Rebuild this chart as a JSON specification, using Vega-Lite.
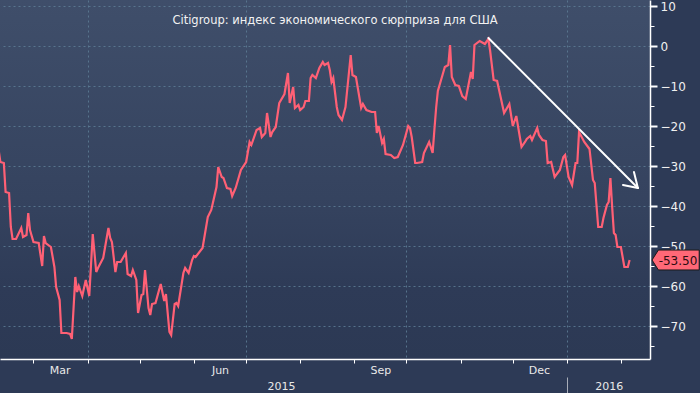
{
  "$schema": "https://vega.github.io/schema/vega-lite/v6.json",
  "width": 650,
  "height": 359,
  "autosize": {"type": "none"},
  "padding": {"left": 0, "top": 0, "right": 50, "bottom": 34},
  "background": "#2d3a56",
  "view": {"stroke": null, "fill": {"gradient": "linear", "x1": 0, "y1": 0, "x2": 0, "y2": 1, "stops": [{"offset": 0, "color": "#3f4e6a"}, {"offset": 0.55, "color": "#35435f"}, {"offset": 0.8, "color": "#2e3b57"}, {"offset": 1, "color": "#2c3954"}]}},
  "title": {"text": "Citigroup: индекс экономического сюрприза для США", "offset": -26, "dx": 10, "anchor": "middle", "font": "DejaVu Sans", "fontSize": 11.5, "fontWeight": "normal", "color": "#f2f2f2"},
  "config": {"font": "DejaVu Sans", "axis": {"labelFont": "DejaVu Sans", "labelFontSize": 11, "labelColor": "#e8e8e8", "title": null}},
  "datasets": {
    "s": [
      {"d":"2015-02-09","v":-26},{"d":"2015-02-10","v":-29},{"d":"2015-02-12","v":-29.25},{"d":"2015-02-13","v":-36.5},{"d":"2015-02-15","v":-36.75},{"d":"2015-02-16","v":-45.25},{"d":"2015-02-17","v":-48.25},{"d":"2015-02-19","v":-48.25},{"d":"2015-02-22","v":-45.5},{"d":"2015-02-23","v":-47.75},{"d":"2015-02-25","v":-47.25},{"d":"2015-02-26","v":-41.75},{"d":"2015-02-27","v":-46},
      {"d":"2015-03-01","v":-49},{"d":"2015-03-04","v":-49.25},{"d":"2015-03-06","v":-55},{"d":"2015-03-07","v":-47.5},{"d":"2015-03-08","v":-49.25},{"d":"2015-03-11","v":-50.25},{"d":"2015-03-13","v":-55.25},{"d":"2015-03-14","v":-60.25},{"d":"2015-03-16","v":-63.5},{"d":"2015-03-17","v":-71.75},{"d":"2015-03-20","v":-71.75},{"d":"2015-03-22","v":-72},{"d":"2015-03-23","v":-73.25},{"d":"2015-03-25","v":-57.75},{"d":"2015-03-26","v":-61.5},{"d":"2015-03-27","v":-60},{"d":"2015-03-29","v":-62.5},{"d":"2015-03-31","v":-58.5},
      {"d":"2015-04-02","v":-62.5},{"d":"2015-04-04","v":-47},{"d":"2015-04-06","v":-56.5},{"d":"2015-04-07","v":-55.5},{"d":"2015-04-10","v":-53},{"d":"2015-04-13","v":-45.5},{"d":"2015-04-14","v":-48},{"d":"2015-04-15","v":-49},{"d":"2015-04-17","v":-56.5},{"d":"2015-04-18","v":-54},{"d":"2015-04-20","v":-54},{"d":"2015-04-23","v":-51.75},{"d":"2015-04-24","v":-57},{"d":"2015-04-26","v":-57.5},{"d":"2015-04-27","v":-56},{"d":"2015-04-29","v":-58.5},{"d":"2015-04-30","v":-66.75},
      {"d":"2015-05-02","v":-62.25},{"d":"2015-05-03","v":-62},{"d":"2015-05-04","v":-56},{"d":"2015-05-06","v":-65.5},{"d":"2015-05-07","v":-67.25},{"d":"2015-05-08","v":-64.5},{"d":"2015-05-10","v":-64.25},{"d":"2015-05-13","v":-59.5},{"d":"2015-05-15","v":-63.75},{"d":"2015-05-16","v":-62},{"d":"2015-05-18","v":-71.5},{"d":"2015-05-19","v":-72.25},{"d":"2015-05-21","v":-64.5},{"d":"2015-05-22","v":-64.25},{"d":"2015-05-23","v":-65},{"d":"2015-05-26","v":-56.75},{"d":"2015-05-27","v":-55.5},{"d":"2015-05-29","v":-56.75},{"d":"2015-05-31","v":-53.5},
      {"d":"2015-06-01","v":-52.5},{"d":"2015-06-02","v":-52.75},{"d":"2015-06-06","v":-50.5},{"d":"2015-06-09","v":-42.75},{"d":"2015-06-11","v":-41},{"d":"2015-06-14","v":-35.25},{"d":"2015-06-15","v":-30.25},{"d":"2015-06-17","v":-32.75},{"d":"2015-06-18","v":-33},{"d":"2015-06-20","v":-35.5},{"d":"2015-06-22","v":-35.75},{"d":"2015-06-23","v":-37.5},{"d":"2015-06-25","v":-35.5},{"d":"2015-06-28","v":-31},
      {"d":"2015-07-01","v":-29},{"d":"2015-07-03","v":-24},{"d":"2015-07-04","v":-24.75},{"d":"2015-07-07","v":-21},{"d":"2015-07-09","v":-20.5},{"d":"2015-07-10","v":-22.75},{"d":"2015-07-12","v":-21.75},{"d":"2015-07-13","v":-16.75},{"d":"2015-07-15","v":-22.75},{"d":"2015-07-16","v":-21.5},{"d":"2015-07-18","v":-20.25},{"d":"2015-07-20","v":-14.25},{"d":"2015-07-23","v":-12},{"d":"2015-07-25","v":-6.75},{"d":"2015-07-26","v":-14.25},{"d":"2015-07-28","v":-10.25},{"d":"2015-07-29","v":-15.5},{"d":"2015-07-31","v":-14.75},
      {"d":"2015-08-01","v":-16},{"d":"2015-08-03","v":-15.25},{"d":"2015-08-04","v":-13.75},{"d":"2015-08-06","v":-13.75},{"d":"2015-08-07","v":-8},{"d":"2015-08-08","v":-7.25},{"d":"2015-08-10","v":-8},{"d":"2015-08-12","v":-5.5},{"d":"2015-08-14","v":-4},{"d":"2015-08-15","v":-4.75},{"d":"2015-08-17","v":-4.25},{"d":"2015-08-18","v":-6},{"d":"2015-08-19","v":-9},{"d":"2015-08-20","v":-8},{"d":"2015-08-22","v":-15.25},{"d":"2015-08-23","v":-17.25},{"d":"2015-08-25","v":-18.5},{"d":"2015-08-27","v":-15.25},{"d":"2015-08-30","v":-2.25},{"d":"2015-08-31","v":-7.25},
      {"d":"2015-09-02","v":-7.75},{"d":"2015-09-05","v":-15.5},{"d":"2015-09-06","v":-14.5},{"d":"2015-09-08","v":-16},{"d":"2015-09-11","v":-16.5},{"d":"2015-09-13","v":-16.5},{"d":"2015-09-14","v":-21.75},{"d":"2015-09-15","v":-20},{"d":"2015-09-17","v":-24.25},{"d":"2015-09-18","v":-23.25},{"d":"2015-09-19","v":-27},{"d":"2015-09-22","v":-27.25},{"d":"2015-09-24","v":-28},{"d":"2015-09-26","v":-27.75},{"d":"2015-09-29","v":-24.75},
      {"d":"2015-10-02","v":-20},{"d":"2015-10-03","v":-20.5},{"d":"2015-10-04","v":-22.75},{"d":"2015-10-06","v":-29.25},{"d":"2015-10-07","v":-29.25},{"d":"2015-10-10","v":-29},{"d":"2015-10-11","v":-26.75},{"d":"2015-10-14","v":-24},{"d":"2015-10-16","v":-26.75},{"d":"2015-10-17","v":-21},{"d":"2015-10-18","v":-15.5},{"d":"2015-10-19","v":-11.25},{"d":"2015-10-22","v":-6.75},{"d":"2015-10-23","v":-5.25},{"d":"2015-10-25","v":-4.75},{"d":"2015-10-26","v":0.25},{"d":"2015-10-27","v":-7.75},{"d":"2015-10-29","v":-9.75},{"d":"2015-10-31","v":-10},
      {"d":"2015-11-02","v":-12.5},{"d":"2015-11-04","v":-13.25},{"d":"2015-11-07","v":-6.5},{"d":"2015-11-08","v":-8.25},{"d":"2015-11-09","v":0.25},{"d":"2015-11-12","v":1.25},{"d":"2015-11-15","v":0.5},{"d":"2015-11-17","v":1.75},{"d":"2015-11-18","v":-1.25},{"d":"2015-11-20","v":-8.5},{"d":"2015-11-22","v":-8.75},{"d":"2015-11-26","v":-16.75},{"d":"2015-11-29","v":-14.5},
      {"d":"2015-12-01","v":-20},{"d":"2015-12-03","v":-17.5},{"d":"2015-12-06","v":-25.25},{"d":"2015-12-08","v":-24},{"d":"2015-12-09","v":-23.25},{"d":"2015-12-11","v":-22.5},{"d":"2015-12-12","v":-23.5},{"d":"2015-12-15","v":-20.5},{"d":"2015-12-16","v":-22.25},{"d":"2015-12-18","v":-23.5},{"d":"2015-12-20","v":-23.75},{"d":"2015-12-21","v":-29.25},{"d":"2015-12-23","v":-29},{"d":"2015-12-25","v":-32.75},{"d":"2015-12-28","v":-31},{"d":"2015-12-30","v":-27.75},{"d":"2015-12-31","v":-27.25},
      {"d":"2016-01-02","v":-32.75},{"d":"2016-01-04","v":-34.75},{"d":"2016-01-06","v":-29.25},{"d":"2016-01-07","v":-29.25},{"d":"2016-01-08","v":-21.5},{"d":"2016-01-11","v":-24},{"d":"2016-01-14","v":-25.75},{"d":"2016-01-16","v":-33.5},{"d":"2016-01-17","v":-34.25},{"d":"2016-01-19","v":-45.25},{"d":"2016-01-21","v":-45.25},{"d":"2016-01-22","v":-43},{"d":"2016-01-24","v":-39.75},{"d":"2016-01-25","v":-39},{"d":"2016-01-26","v":-33},{"d":"2016-01-27","v":-40.25},{"d":"2016-01-28","v":-46.75},{"d":"2016-01-29","v":-47.25},{"d":"2016-01-30","v":-50.25},
      {"d":"2016-02-01","v":-50.25},{"d":"2016-02-03","v":-55.25},{"d":"2016-02-05","v":-55.25},{"d":"2016-02-06","v":-53.5}
    ],
    "arrow": [
      {"x":"2015-11-17T00:00:00Z","y":2,"x2":"2016-02-10T18:00:00Z","y2":-35.5},
      {"x":"2016-02-10T18:00:00Z","y":-35.5,"x2":"2016-02-02T05:00:00Z","y2":-34.75},
      {"x":"2016-02-10T18:00:00Z","y":-35.5,"x2":"2016-02-08T12:00:00Z","y2":-31.5}
    ],
    "last": [{"v":-53.5,"label":"-53.50"}]
  },
  "resolve": {"axis": {"x": "independent", "y": "independent"}},
  "layer": [
    {
      "data": {"name": "s"},
      "mark": {"type": "line", "strokeOpacity": 0},
      "encoding": {
        "x": {"field": "d", "type": "temporal",
          "scale": {"type": "utc", "nice": false, "domain": [{"year":2015,"month":2,"date":9,"hours":19,"utc":true},{"year":2016,"month":2,"date":17,"hours":17,"utc":true}]},
          "axis": {"orient": "bottom", "values": [{"year":2015,"month":4,"date":1,"utc":true},{"year":2015,"month":7,"date":1,"utc":true},{"year":2015,"month":10,"date":1,"utc":true},{"year":2016,"month":1,"date":1,"utc":true}],
            "grid": true, "gridColor": "#5b7a92", "gridDash": [2,3], "gridWidth": 1, "gridOpacity": 0.9, "ticks": false, "labels": false, "domain": false}},
        "y": {"field": "v", "type": "quantitative",
          "scale": {"domain": [-78.25, 11.5], "nice": false, "zero": false},
          "axis": {"orient": "right", "values": [-75,-65,-55,-45,-35,-25,-15,-5,5], "grid": false, "labels": false, "domain": false, "ticks": true, "tickColor": "#ffffff", "tickSize": 4, "tickWidth": 1}}
      }
    },
    {
      "data": {"name": "s"},
      "mark": {"type": "line", "color": "#ff6075", "strokeWidth": 2.2, "interpolate": "linear"},
      "encoding": {
        "x": {"field": "d", "type": "temporal",
          "axis": {"orient": "bottom", "values": [{"year":2015,"month":3,"date":1,"utc":true},{"year":2015,"month":4,"date":1,"utc":true},{"year":2015,"month":5,"date":1,"utc":true},{"year":2015,"month":6,"date":1,"utc":true},{"year":2015,"month":7,"date":1,"utc":true},{"year":2015,"month":8,"date":1,"utc":true},{"year":2015,"month":9,"date":1,"utc":true},{"year":2015,"month":10,"date":1,"utc":true},{"year":2015,"month":11,"date":1,"utc":true},{"year":2015,"month":12,"date":1,"utc":true},{"year":2016,"month":1,"date":1,"utc":true},{"year":2016,"month":2,"date":1,"utc":true}],
            "grid": false, "labels": false, "domain": true, "domainColor": "#ffffff", "domainWidth": 1.5, "ticks": true, "tickColor": "#ffffff", "tickSize": 4, "tickWidth": 1}},
        "y": {"field": "v", "type": "quantitative",
          "axis": {"orient": "right", "values": [-70,-60,-50,-40,-30,-20,-10,0,10], "format": "d", "grid": true, "gridColor": "#5b7a92", "gridDash": [2,3], "gridWidth": 1, "gridOpacity": 0.9,
            "domain": true, "domainColor": "#ffffff", "domainWidth": 1.5, "ticks": true, "tickColor": "#ffffff", "tickSize": 7, "tickWidth": 2, "labelPadding": 3, "labelFontSize": 12, "labelColor": "#f0f0f0"}}
      }
    },
    {
      "data": {"name": "s"},
      "mark": {"type": "line", "strokeOpacity": 0},
      "encoding": {
        "x": {"field": "d", "type": "temporal",
          "axis": {"orient": "bottom", "values": [{"year":2015,"month":3,"date":16,"utc":true},{"year":2015,"month":6,"date":16,"utc":true},{"year":2015,"month":9,"date":16,"utc":true},{"year":2015,"month":12,"date":16,"utc":true}],
            "labelExpr": "utcFormat(datum.value, '%b')", "grid": false, "ticks": false, "tickSize": 0, "domain": false, "labelPadding": 5, "labelColor": "#e8e8e8"}},
        "y": {"field": "v", "type": "quantitative", "axis": null}
      }
    },
    {
      "data": {"name": "s"},
      "mark": {"type": "line", "strokeOpacity": 0},
      "encoding": {
        "x": {"field": "d", "type": "temporal",
          "axis": {"orient": "bottom", "values": [{"year":2015,"month":7,"date":21,"utc":true},{"year":2016,"month":1,"date":25,"utc":true}],
            "labelExpr": "utcFormat(datum.value, '%Y')", "grid": false, "ticks": false, "tickSize": 0, "domain": false, "labelPadding": 21, "labelColor": "#e8e8e8"}},
        "y": {"field": "v", "type": "quantitative", "axis": null}
      }
    },
    {
      "data": {"name": "s"},
      "mark": {"type": "line", "strokeOpacity": 0},
      "encoding": {
        "x": {"field": "d", "type": "temporal",
          "axis": {"orient": "bottom", "offset": 18, "values": [{"year":2016,"month":1,"date":1,"utc":true}],
            "grid": false, "labels": false, "domain": false, "ticks": true, "tickSize": 16, "tickColor": "#a8adb8", "tickWidth": 1}},
        "y": {"field": "v", "type": "quantitative", "axis": null}
      }
    },
    {
      "data": {"name": "arrow"},
      "mark": {"type": "rule", "color": "#ffffff", "strokeWidth": 2, "strokeCap": "round"},
      "encoding": {
        "x": {"field": "x", "type": "temporal", "axis": null},
        "x2": {"field": "x2"},
        "y": {"field": "y", "type": "quantitative", "axis": null},
        "y2": {"field": "y2"}
      }
    },
    {
      "data": {"name": "last"},
      "mark": {"type": "point", "filled": true, "fill": "#ff6877", "fillOpacity": 1, "stroke": "#1a1a1a", "strokeWidth": 1, "size": 576,
        "shape": "M 0.17 0 L 0.7 -0.83 L 4.1 -0.83 L 4.1 0.83 L 0.7 0.83 Z"},
      "encoding": {
        "x": {"datum": {"year":2016,"month":2,"date":17,"hours":17,"utc":true}, "type": "temporal", "axis": null},
        "y": {"field": "v", "type": "quantitative", "axis": null}
      }
    },
    {
      "data": {"name": "last"},
      "mark": {"type": "text", "align": "center", "baseline": "middle", "dx": 28, "dy": 1, "font": "DejaVu Sans", "fontSize": 12, "color": "#2a0c10"},
      "encoding": {
        "x": {"datum": {"year":2016,"month":2,"date":17,"hours":17,"utc":true}, "type": "temporal", "axis": null},
        "y": {"field": "v", "type": "quantitative", "axis": null},
        "text": {"field": "label"}
      }
    }
  ]
}
